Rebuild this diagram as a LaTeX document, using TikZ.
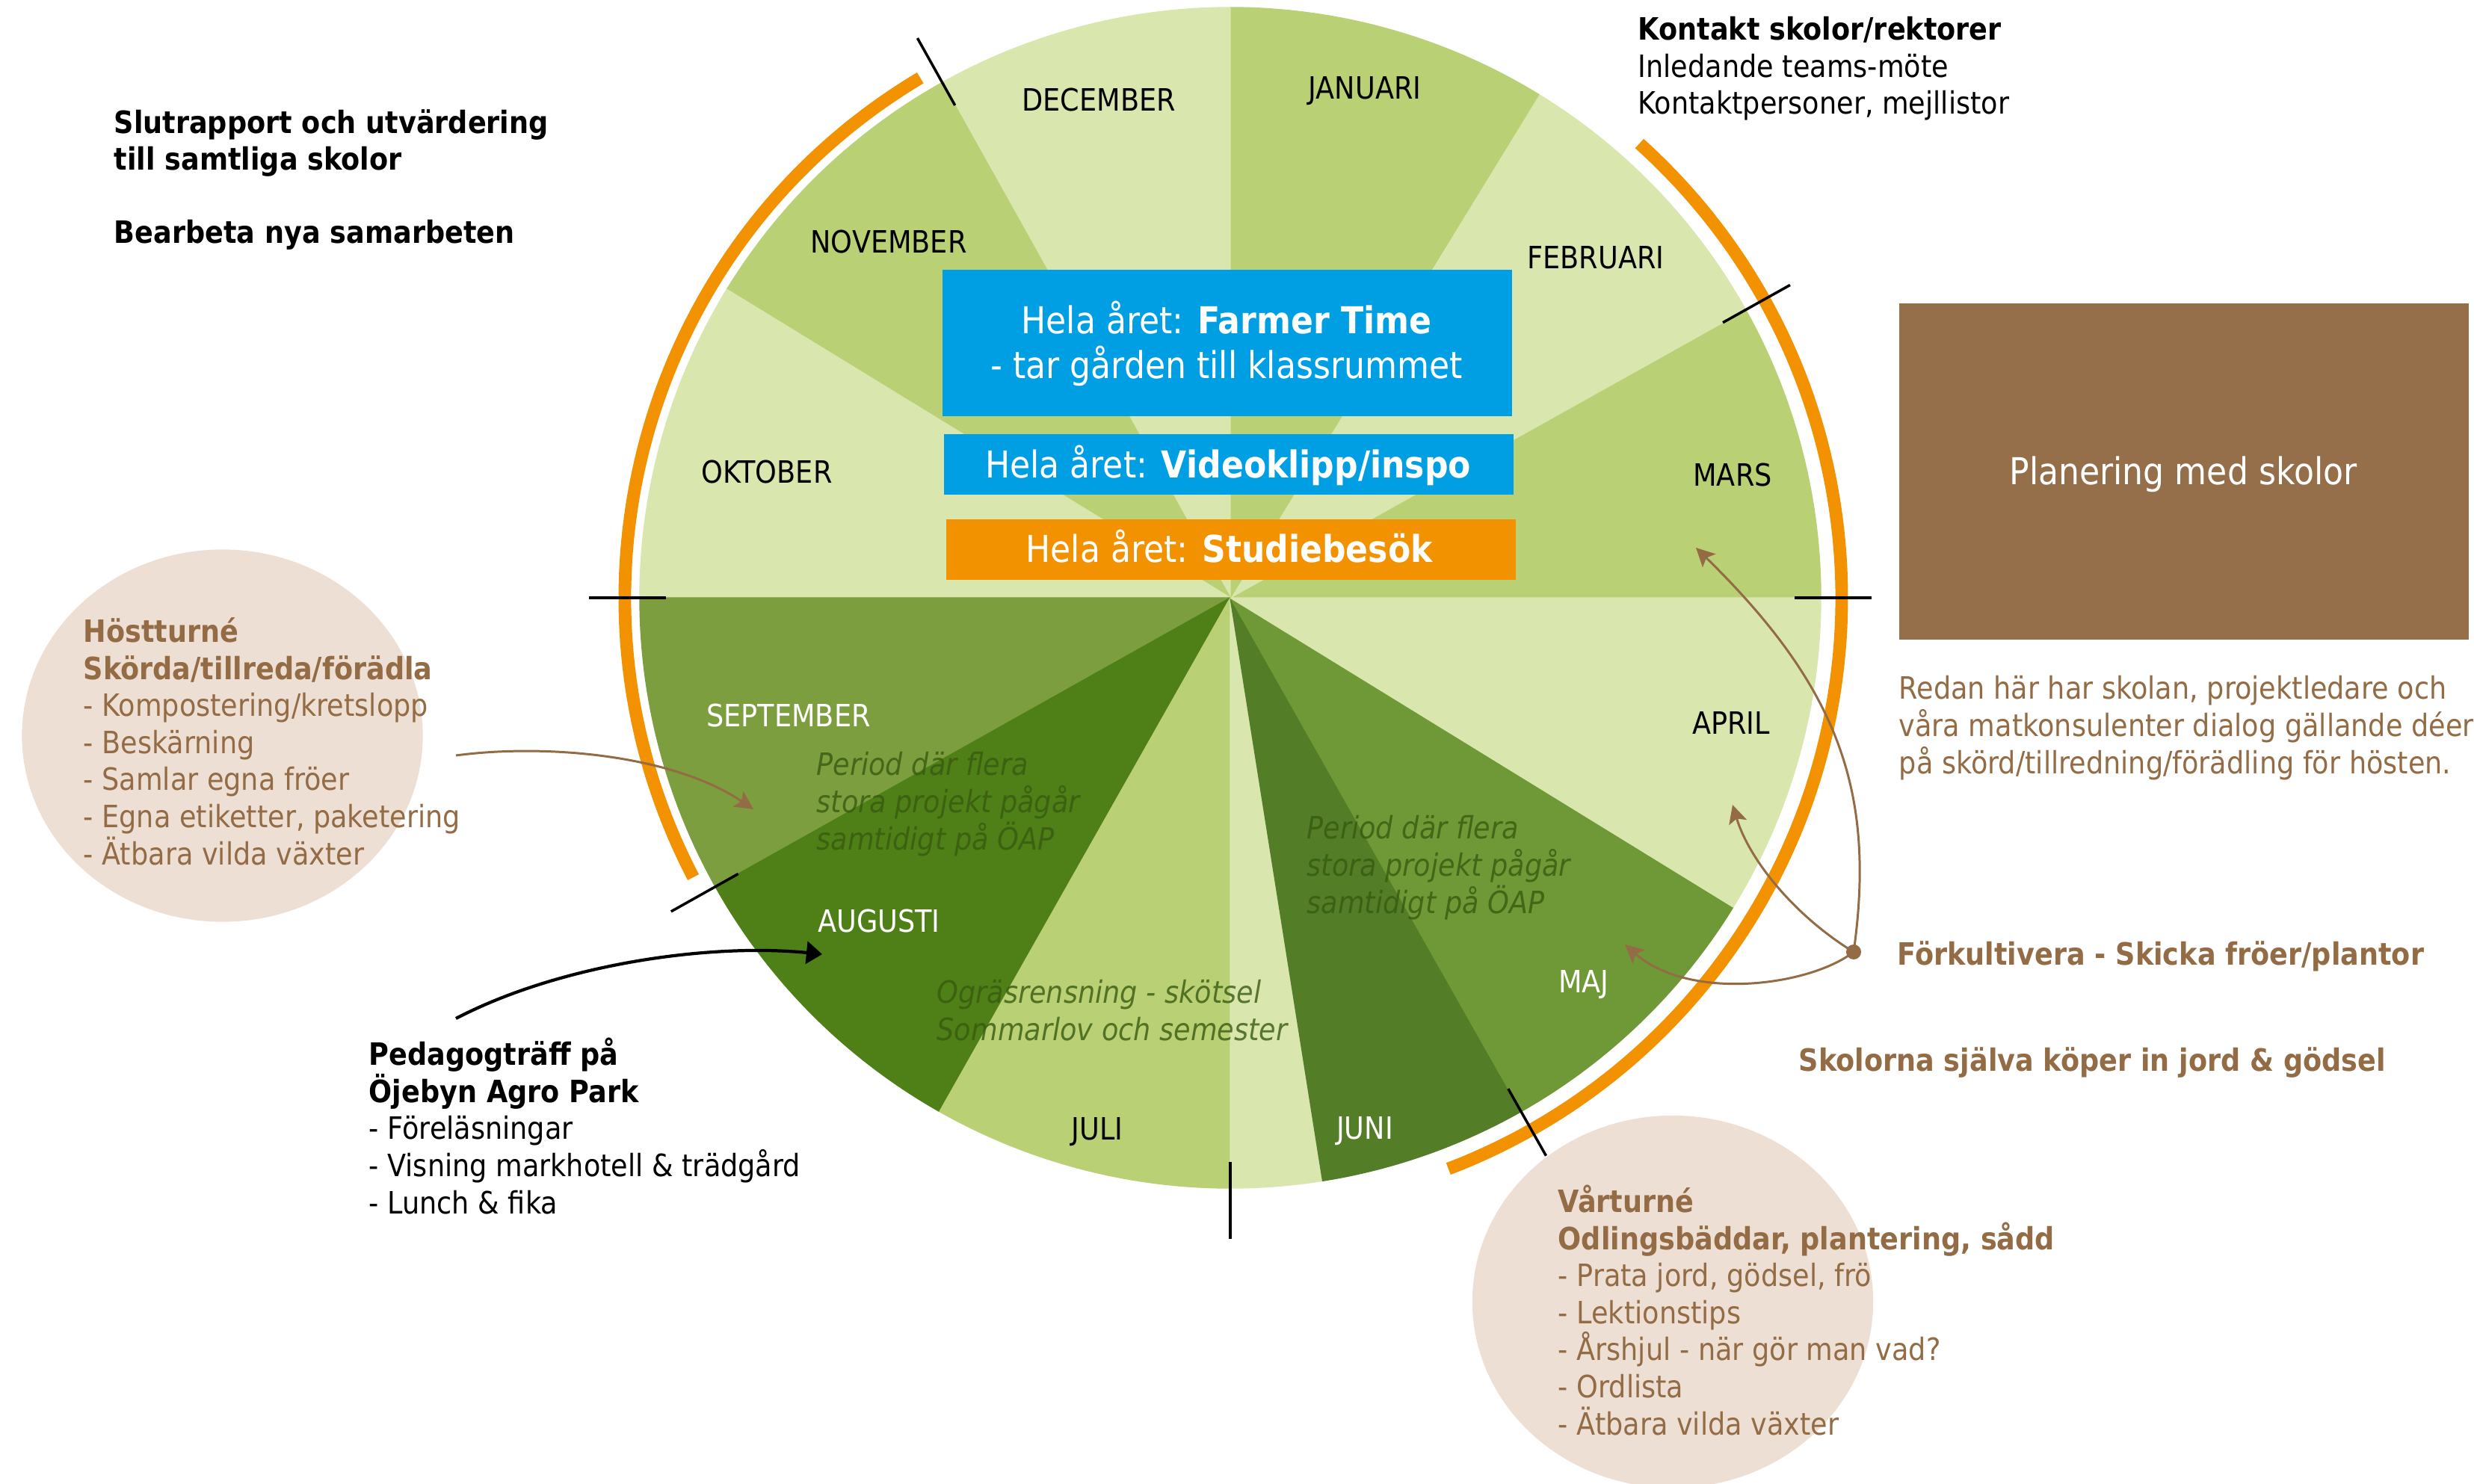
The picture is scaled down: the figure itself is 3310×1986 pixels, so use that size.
\documentclass[tikz,border=0pt]{standalone}
\usepackage{fontspec}
\setmainfont{DejaVu Sans}[FakeStretch=0.89, BoldFont={DejaVu Sans Bold}, ItalicFont={DejaVu Sans Oblique}, BoldItalicFont={DejaVu Sans Bold Oblique}]
\usetikzlibrary{arrows.meta,shapes.geometric}
\definecolor{cLight}{HTML}{D9E6AD}
\definecolor{cMid}{HTML}{B9D174}
\definecolor{cSep}{HTML}{7C9E3E}
\definecolor{cAug}{HTML}{4F7F17}
\definecolor{cJun}{HTML}{537D27}
\definecolor{cMaj}{HTML}{6F9937}
\definecolor{cOrange}{HTML}{F39200}
\definecolor{cBlue}{HTML}{009FE3}
\definecolor{cBrown}{HTML}{956F4A}
\definecolor{cBrTxt}{HTML}{936C45}
\definecolor{cBeige}{HTML}{EDDFD3}
\definecolor{cItal}{HTML}{385A10}
\newcommand{\myfsN}{\fontsize{11.7pt}{14.1pt}\selectfont}
\newcommand{\myfsB}{\fontsize{14.1pt}{17pt}\selectfont}
\tikzset{
  txt/.style={anchor=base west, inner sep=0pt, align=left, font=\myfsN},
  month/.style={anchor=base, inner sep=0pt, font=\myfsN},
  boxtxt/.style={anchor=base, inner sep=0pt, font=\myfsB, text=white},
  yearbox/.style={rectangle, inner sep=0pt, anchor=north west, minimum width=7.62cm},
  italtxt/.style={txt, font=\myfsN\itshape, text=cItal, text opacity=0.8},
  tickline/.style={line width=1pt, black},
  orangearc/.style={line width=4.8pt, cOrange},
  brarrow/.style={draw=cBrTxt, line width=0.85pt, -{Stealth[length=7pt,width=7pt,inset=1.5pt]}},
  blkarrow/.style={draw=black, line width=1.2pt, -{Triangle[length=6pt,width=8.5pt]}},
  blob/.style={ellipse, fill=cBeige, inner sep=0pt, minimum width=5.36cm, minimum height=4.98cm}
}
\begin{document}
\begin{tikzpicture}[x=0.01cm, y=-0.01cm]
\path[use as bounding box] (0,0) rectangle (3310,1986);
\clip (0,0) rectangle (3310,1986);

% beige blobs
\node[blob] (host) at (297.5,984.5) {};
\node[blob] (var) at (2238,1742) {};

% wheel
\begin{scope}[shift={(1646,800)}, yscale=-1]
  \foreach \a/\b/\c in {0/29.2/cMid, 29.2/58.5/cLight, 58.5/90/cMid, 90/119.2/cLight, 119.2/148.5/cMid, 148.5/180/cLight, 180/209.3/cSep, 209.3/240.5/cAug, 240.5/270/cMid, 270/279/cLight, 279/299.5/cJun, 299.5/328.4/cMaj, 328.4/360/cLight}
    \filldraw[fill=\c, draw=\c, line width=0.4pt, line join=round] (0,0) -- (\a:790) arc[start angle=\a, end angle=\b, radius=790] -- cycle;
  \draw[orangearc] (120.8:810) arc[start angle=120.8, end angle=207.5, radius=810];
  \draw[orangearc] (48:818) arc[start angle=48, end angle=-69.1, radius=818];
  \foreach \a in {0,29.2,119.2,180,209.3,270,299.5}
    \draw[tickline] (\a:755) -- (\a:858);
\end{scope}

% month labels
\node[month] (dec) at (1470,149) {DECEMBER};
\node[month] (jan) at (1826,133) {JANUARI};
\node[month] (feb) at (2135,360) {FEBRUARI};
\node[month] (mar) at (2318,651) {MARS};
\node[month] (apr) at (2316,982) {APRIL};
\node[month, text=white] (maj) at (2119,1328) {MAJ};
\node[month, text=white] (jun) at (1826,1524) {JUNI};
\node[month] (jul) at (1468,1525) {JULI};
\node[month, text=white] (aug) at (1176,1247) {AUGUSTI};
\node[month, text=white] (sep) at (1055,973) {SEPTEMBER};
\node[month] (okt) at (1026,647) {OKTOBER};
\node[month] (nov) at (1189,339) {NOVEMBER};

% italic notes (anchor = baseline of last line)
\node[italtxt] (per1) at (1092,1137) {Period där flera\\stora projekt pågår\\samtidigt på ÖAP};
\node[italtxt] (per2) at (1748,1222) {Period där flera\\stora projekt pågår\\samtidigt på ÖAP};
\node[italtxt] (ogras) at (1253,1392) {Ogräsrensning - skötsel\\Sommarlov och semester};

% year boxes
\node[yearbox, fill=cBlue, minimum height=1.96cm] (farmer) at (1260,360) {};
\node[yearbox, fill=cBlue, minimum height=0.81cm] (video) at (1262,580) {};
\node[yearbox, fill=cOrange, minimum height=0.81cm] (studie) at (1265,694) {};
\node[boxtxt] (ft1) at (1641,447) {Hela året: \textbf{Farmer Time}};
\node[boxtxt] (ft2) at (1641,507) {- tar gården till klassrummet};
\node[boxtxt] (vt) at (1643,640) {Hela året: \textbf{Videoklipp/inspo}};
\node[boxtxt] (st) at (1645,753) {Hela året: \textbf{Studiebesök}};

% planning box
\node[rectangle, fill=cBrown, inner sep=0pt, anchor=north west, minimum width=7.62cm, minimum height=4.5cm] (plan) at (2540,405) {};
\node[boxtxt] (plantxt) at (2921,649) {Planering med skolor};

% side texts (anchor = baseline of last line)
\node[txt, font=\myfsN\bfseries] (slut) at (152,228) {Slutrapport och utvärdering\\till samtliga skolor};
\node[txt, font=\myfsN\bfseries] (bearb) at (152,326) {Bearbeta nya samarbeten};
\node[txt] (kontakt) at (2191,153) {\textbf{Kontakt skolor/rektorer}\\Inledande teams-möte\\Kontaktpersoner, mejllistor};
\node[txt, text=cBrTxt] (redan) at (2540,1035) {Redan här har skolan, projektledare och\\våra matkonsulenter dialog gällande déer\\på skörd/tillredning/förädling för hösten.};
\node[txt, font=\myfsN\bfseries, text=cBrTxt] (fork) at (2538,1291) {Förkultivera - Skicka fröer/plantor};
\node[txt, font=\myfsN\bfseries, text=cBrTxt] (skol) at (2406,1433) {Skolorna själva köper in jord \& gödsel};
\node[txt, text=cBrTxt] (hosttxt) at (111,1157) {\textbf{Höstturné}\\\textbf{Skörda/tillreda/förädla}\\- Kompostering/kretslopp\\- Beskärning\\- Samlar egna fröer\\- Egna etiketter, paketering\\- Ätbara vilda växter};
\node[txt, text=cBrTxt] (vartxt) at (2084,1920) {\textbf{Vårturné}\\\textbf{Odlingsbäddar, plantering, sådd}\\- Prata jord, gödsel, frö\\- Lektionstips\\- Årshjul - när gör man vad?\\- Ordlista\\- Ätbara vilda växter};
\node[txt] (ped) at (493,1624) {\textbf{Pedagogträff på}\\\textbf{Öjebyn Agro Park}\\- Föreläsningar\\- Visning markhotell \& trädgård\\- Lunch \& fika};

% connectors
\coordinate (hA) at (610,1011);
\coordinate (hB) at (1008,1083);
\draw[brarrow] (hA) .. controls (730,995) and (900,1010) .. (hB);
\coordinate (pA) at (610,1363);
\coordinate (pB) at (1100,1277);
\draw[blkarrow] (pA) .. controls (750,1290) and (950,1262) .. (pB);
\node[circle, fill=cBrTxt, inner sep=0pt, minimum size=0.2cm] (dot) at (2480,1274) {};
\coordinate (tMars) at (2269,733);
\coordinate (tApr) at (2318,1077);
\coordinate (tMaj) at (2174,1264);
\draw[brarrow] (dot.center) .. controls (2510,1060) and (2460,920) .. (tMars);
\draw[brarrow] (dot.center) .. controls (2400,1225) and (2340,1150) .. (tApr);
\draw[brarrow] (dot.center) .. controls (2420,1320) and (2260,1340) .. (tMaj);
\end{tikzpicture}
\end{document}
